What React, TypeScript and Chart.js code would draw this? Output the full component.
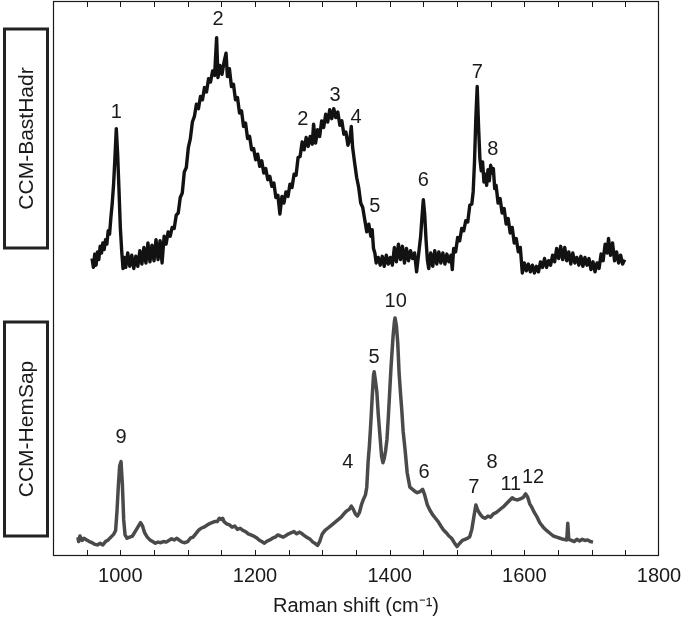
import React, { useEffect, useRef } from "react";
import { Chart, registerables } from "chart.js";

Chart.register(...registerables);

// ---------- data ----------
const X_MIN = 900;
const X_MAX = 1800;
const X_TICKS = [1000, 1200, 1400, 1600, 1800];
const MINOR_STEP = 50;

const SERIES_NAMES = ["CCM-BastHadr", "CCM-HemSap"];
const SERIES_OFFSETS = [50, 0];

const TOP_SHIFT = [
  958, 960, 962, 964, 966, 968, 970, 972, 974, 976, 978, 980, 982, 984, 986, 988, 990, 992, 994, 996, 998, 1000,
  1002, 1004, 1006, 1008, 1011, 1014, 1017, 1020, 1023, 1026, 1029, 1032, 1035, 1038, 1041, 1044, 1047, 1050,
  1053, 1056, 1059, 1062, 1065, 1068, 1071, 1074, 1077, 1080, 1083, 1086, 1089, 1092, 1095, 1098, 1101, 1104,
  1107, 1110, 1113, 1116, 1119, 1122, 1125, 1128, 1131, 1134, 1137, 1140, 1143, 1145, 1148, 1151, 1154, 1157,
  1159, 1162, 1165, 1168, 1171, 1174, 1177, 1180, 1183, 1186, 1189, 1192, 1195, 1198, 1201, 1204, 1207, 1210,
  1213, 1216, 1219, 1222, 1225, 1228, 1231, 1234, 1237, 1240, 1243, 1246, 1249, 1252, 1255, 1258, 1261, 1264,
  1267, 1270, 1273, 1276, 1279, 1282, 1285, 1287, 1290, 1293, 1296, 1299, 1302, 1305, 1308, 1311, 1314, 1317,
  1320, 1323, 1326, 1329, 1332, 1335, 1338, 1341, 1343, 1345, 1348, 1351, 1354, 1357, 1360, 1363, 1366, 1369,
  1372, 1374, 1376, 1378, 1380, 1383, 1386, 1389, 1392, 1395, 1398, 1401, 1404, 1407, 1410, 1413, 1416, 1419,
  1422, 1425, 1428, 1431, 1434, 1437, 1440, 1443, 1446, 1448, 1450, 1452, 1454, 1456, 1458, 1461, 1464, 1467,
  1470, 1473, 1476, 1479, 1482, 1485, 1488, 1491, 1493, 1495, 1498, 1501, 1504, 1507, 1510, 1513, 1516, 1519,
  1522, 1524, 1526, 1528, 1530, 1532, 1534, 1536, 1538, 1540, 1542, 1544, 1546, 1548, 1550, 1552, 1554, 1556,
  1558, 1561, 1564, 1567, 1570, 1573, 1576, 1579, 1582, 1585, 1588, 1591, 1594, 1597, 1600, 1603, 1606, 1609,
  1612, 1615, 1618, 1621, 1624, 1627, 1630, 1633, 1636, 1639, 1642, 1645, 1648, 1651, 1654, 1657, 1660, 1663,
  1666, 1669, 1672, 1675, 1678, 1681, 1684, 1687, 1690, 1693, 1696, 1699, 1702, 1705, 1708, 1711, 1714, 1717,
  1720, 1723, 1725, 1728, 1731, 1734, 1737, 1740, 1743, 1746, 1749,
];
const TOP_INTENSITY = [
  3.6, 2.0, 4.4, 2.4, 4.8, 3.4, 5.8, 4.6, 6.4, 5.2, 7.0, 6.2, 8.6, 8.0, 11.0, 13.6, 17.0, 21.8, 27.0, 22.4, 16.0, 9.2,
  5.0, 1.8, 3.8, 2.0, 4.6, 2.2, 4.2, 1.8, 4.0, 2.2, 5.0, 2.6, 5.6, 2.8, 6.4, 3.0, 6.0, 3.2,
  7.0, 3.4, 6.8, 2.8, 7.6, 6.2, 8.4, 7.6, 9.2, 9.0, 11.4, 11.8, 14.6, 15.4, 19.2, 20.0, 23.6, 25.2,
  28.2, 29.2, 31.4, 30.6, 32.8, 32.2, 34.4, 33.6, 36.0, 35.4, 37.4, 36.6, 43.4, 36.2, 38.4, 36.8, 39.0, 40.6,
  36.4, 37.8, 34.6, 35.0, 32.2, 32.6, 29.8, 30.2, 27.4, 28.0, 25.2, 25.6, 23.2, 23.4, 21.4, 22.4, 20.2, 21.2,
  19.0, 19.8, 17.8, 18.4, 16.6, 17.2, 14.6, 15.0, 11.6, 14.8, 13.6, 15.6, 14.8, 17.0, 16.4, 18.8, 18.6, 21.8,
  22.0, 24.6, 23.2, 25.4, 23.8, 25.6, 24.2, 27.8, 24.4, 26.8, 25.6, 28.4, 27.2, 29.6, 28.2, 30.4, 28.8, 30.6,
  29.0, 30.0, 27.6, 28.4, 26.0, 26.4, 24.0, 25.2, 27.4, 23.6, 20.8, 18.2, 16.4, 13.6, 12.8, 10.6, 8.4, 9.8,
  7.6, 8.8, 5.4, 4.6, 2.8, 3.8, 2.4, 4.0, 2.2, 4.2, 2.6, 3.8, 2.4, 5.6, 3.0, 6.2, 3.4, 5.8,
  2.8, 5.4, 3.2, 5.0, 3.6, 4.6, 1.2, 4.4, 7.6, 11.0, 14.2, 11.6, 7.0, 3.4, 1.8, 4.6, 2.2, 5.0,
  2.6, 4.8, 2.8, 4.6, 2.6, 4.4, 3.0, 4.2, 1.6, 5.4, 4.8, 7.4, 6.8, 9.0, 8.6, 10.4, 10.2, 13.2,
  13.4, 15.6, 21.0, 29.0, 34.6, 27.4, 21.6, 19.4, 21.0, 17.4, 18.8, 16.8, 19.6, 17.6, 20.4, 19.0, 19.8, 16.2,
  16.8, 13.6, 14.4, 11.8, 12.6, 9.8, 10.8, 8.2, 9.2, 6.4, 7.2, 4.8, 5.6, 1.0, 2.8, 1.4, 2.6, 1.2,
  2.4, 1.0, 2.2, 1.2, 3.0, 2.0, 3.6, 2.0, 3.2, 2.4, 4.2, 3.0, 5.4, 3.6, 5.8, 3.4, 5.6, 3.2,
  4.8, 2.6, 4.6, 2.8, 3.8, 2.4, 4.0, 2.2, 3.8, 2.4, 3.6, 1.6, 3.0, 1.2, 2.8, 1.8, 4.4, 3.2,
  6.2, 4.6, 7.2, 4.2, 6.4, 3.2, 4.8, 2.8, 4.2, 2.6, 3.4,
];

const BOTTOM_SHIFT = [
  937, 938, 940, 943, 946, 950, 954, 958, 962, 966, 970, 974, 978, 982, 986, 990, 993, 995, 997, 999, 1001, 1003,
  1005, 1007, 1010, 1014, 1018, 1022, 1026, 1030, 1033, 1036, 1040, 1044, 1048, 1052, 1056, 1060, 1064, 1068,
  1072, 1076, 1080, 1084, 1088, 1092, 1096, 1100, 1104, 1108, 1112, 1116, 1120, 1124, 1128, 1132, 1136, 1140,
  1144, 1147, 1150, 1152, 1154, 1158, 1162, 1166, 1170, 1174, 1178, 1182, 1186, 1190, 1194, 1198, 1202, 1206,
  1210, 1214, 1218, 1222, 1226, 1230, 1234, 1238, 1242, 1246, 1250, 1254, 1258, 1262, 1266, 1270, 1274, 1278,
  1282, 1286, 1290, 1293, 1296, 1300, 1304, 1308, 1312, 1316, 1320, 1324, 1328, 1332, 1336, 1340, 1343, 1346,
  1349, 1352, 1355, 1358, 1361, 1364, 1366, 1368, 1370, 1372, 1374, 1376, 1377, 1379, 1381, 1383, 1386, 1388,
  1390, 1392, 1394, 1396, 1398, 1400, 1402, 1405, 1407, 1408, 1410, 1412, 1414, 1416, 1418, 1420, 1423, 1426,
  1430, 1434, 1438, 1441, 1445, 1449, 1452, 1456, 1460, 1464, 1468, 1472, 1476, 1480, 1484, 1488, 1492, 1496,
  1500, 1504, 1508, 1512, 1516, 1519, 1522, 1525, 1528, 1531, 1534, 1538, 1542, 1546, 1550, 1554, 1558, 1562,
  1566, 1570, 1574, 1578, 1582, 1586, 1590, 1594, 1598, 1602, 1605, 1608, 1611, 1615, 1619, 1623, 1628, 1633,
  1638, 1643, 1648, 1653, 1658, 1663, 1664.5, 1666, 1670, 1674, 1678, 1682, 1686, 1690, 1694, 1698, 1702,
];
const BOTTOM_INTENSITY = [
  3.4, 2.6, 3.6, 2.8, 3.2, 2.9, 2.6, 2.4, 2.1, 2.0, 2.3, 2.0, 2.6, 2.9, 3.4, 3.9, 4.6, 8.0, 12.5, 16.2, 17.0, 13.0,
  6.5, 3.8, 3.2, 3.4, 3.6, 4.4, 5.2, 6.0, 5.4, 4.2, 3.4, 2.9, 2.6, 2.3, 2.5, 2.4, 2.6, 2.5,
  2.8, 3.1, 2.9, 3.2, 2.8, 2.5, 2.4, 2.6, 3.2, 3.4, 4.0, 4.6, 5.0, 5.2, 5.5, 5.8, 6.0, 6.2,
  6.2, 6.8, 6.6, 6.8, 6.2, 5.8, 5.6, 5.2, 5.4, 4.8, 5.0, 4.6, 4.4, 4.0, 3.8, 3.6, 3.3, 2.9,
  2.6, 2.3, 2.7, 2.9, 3.2, 3.4, 3.8, 3.6, 3.4, 3.7, 4.0, 4.2, 4.4, 4.0, 4.3, 4.0, 3.6, 3.3,
  3.0, 2.5, 2.2, 1.9, 2.6, 4.0, 4.6, 5.0, 5.4, 5.8, 6.2, 6.6, 7.0, 7.6, 8.1, 8.4, 9.0, 8.4,
  7.6, 7.2, 7.8, 9.2, 10.2, 11.0, 12.4, 17.0, 20.0, 24.0, 28.5, 32.6, 33.2, 31.5, 29.5, 25.6, 21.0, 18.0,
  16.8, 17.6, 19.0, 21.0, 25.0, 29.5, 34.0, 39.5, 42.2, 42.9, 41.5, 38.4, 33.0, 29.5, 26.3, 22.5, 19.0, 15.0,
  12.4, 12.0, 11.6, 11.4, 11.6, 12.0, 11.0, 9.2, 8.2, 7.4, 6.8, 6.2, 5.4, 4.7, 4.2, 3.6, 3.2, 2.4,
  1.7, 2.3, 2.8, 3.0, 3.2, 3.5, 4.8, 7.0, 9.2, 8.2, 7.6, 7.0, 6.8, 7.2, 7.0, 7.6, 7.8, 8.2,
  8.6, 9.0, 9.5, 10.0, 10.5, 10.2, 10.1, 10.3, 10.5, 11.2, 10.6, 9.4, 8.8, 7.8, 7.0, 6.0, 5.2, 4.6,
  4.1, 3.6, 3.4, 3.2, 3.0, 2.9, 5.9, 3.0, 2.8, 2.6, 3.0, 2.7, 3.0, 2.8, 2.9, 2.6, 2.5,
];

// peak annotations (label, wavenumber, height above each trace's offset)
const TOP_PEAK_LABELS = ["1", "2", "2", "3", "4", "5", "6", "7", "8"];
const TOP_PEAK_SHIFT = [994, 1145, 1271, 1319, 1350, 1378, 1450, 1530, 1553];
const TOP_PEAK_HEIGHT = [30.0, 46.6, 28.7, 32.9, 29.1, 12.9, 17.7, 37.2, 23.2];

const BOTTOM_PEAK_LABELS = ["9", "4", "5", "10", "6", "7", "8", "11", "12"];
const BOTTOM_PEAK_SHIFT = [1001, 1338, 1377, 1409, 1451, 1525, 1552, 1580, 1613];
const BOTTOM_PEAK_HEIGHT = [21.4, 16.8, 35.7, 45.8, 15.1, 12.4, 16.9, 12.8, 14.2];

const FONT = '"Liberation Sans", Arial, Helvetica, sans-serif';

const decorPlugin = {
  id: "decor",
  afterDraw(chart: any) {
    const { ctx, chartArea: a, scales } = chart;
    const x = scales.x;
    const y = scales.y;
    ctx.save();
    // frame
    ctx.strokeStyle = "#1a1a1a";
    ctx.lineWidth = 1.2;
    ctx.strokeRect(a.left + 0.5, a.top + 0.5, a.right - a.left - 1, a.bottom - a.top - 1);
    // inward ticks on top and bottom
    ctx.lineWidth = 1;
    ctx.beginPath();
    for (let v = X_MIN + MINOR_STEP; v < X_MAX; v += MINOR_STEP) {
      const px = Math.round(x.getPixelForValue(v)) + 0.5;
      ctx.moveTo(px, a.bottom);
      ctx.lineTo(px, a.bottom - 6);
      ctx.moveTo(px, a.top);
      ctx.lineTo(px, a.top + 6);
    }
    ctx.stroke();

    // peak labels
    ctx.fillStyle = "#1a1a1a";
    ctx.font = `20px ${FONT}`;
    ctx.textAlign = "center";
    ctx.textBaseline = "middle";
    TOP_PEAK_LABELS.forEach((t, i) => {
      ctx.fillText(t, x.getPixelForValue(TOP_PEAK_SHIFT[i]), y.getPixelForValue(TOP_PEAK_HEIGHT[i] + SERIES_OFFSETS[0]));
    });
    BOTTOM_PEAK_LABELS.forEach((t, i) => {
      ctx.fillText(t, x.getPixelForValue(BOTTOM_PEAK_SHIFT[i]), y.getPixelForValue(BOTTOM_PEAK_HEIGHT[i] + SERIES_OFFSETS[1]));
    });

    // boxed series names at left
    const boxes = [
      { top: 29, bottom: 248 },
      { top: 322, bottom: 536 },
    ];
    ctx.lineWidth = 3;
    ctx.strokeStyle = "#222";
    ctx.font = `21px ${FONT}`;
    boxes.forEach((b, i) => {
      const left = 4.5;
      const right = a.left - 5.5;
      ctx.strokeRect(left, b.top, right - left, b.bottom - b.top);
      ctx.save();
      ctx.translate((left + right) / 2 + 1, (b.top + b.bottom) / 2);
      ctx.rotate(-Math.PI / 2);
      ctx.fillStyle = "#1a1a1a";
      ctx.textAlign = "center";
      ctx.textBaseline = "middle";
      ctx.fillText(SERIES_NAMES[i], 0, 0);
      ctx.restore();
    });
    ctx.restore();
  },
};

export default function App() {
  const ref = useRef<HTMLCanvasElement | null>(null);
  useEffect(() => {
    if (!ref.current) return;
    const chart = new Chart(ref.current, {
      type: "line",
      data: {
        datasets: [
          {
            label: SERIES_NAMES[0],
            data: TOP_SHIFT.map((s, i) => ({ x: s, y: TOP_INTENSITY[i] + SERIES_OFFSETS[0] })),
            borderColor: "#121212",
            borderWidth: 3.4,
            pointRadius: 0,
            tension: 0,
            borderJoinStyle: "round",
          },
          {
            label: SERIES_NAMES[1],
            data: BOTTOM_SHIFT.map((s, i) => ({ x: s, y: BOTTOM_INTENSITY[i] + SERIES_OFFSETS[1] })),
            borderColor: "#4a4a4a",
            borderWidth: 3.5,
            pointRadius: 0,
            tension: 0,
            borderJoinStyle: "round",
          },
        ],
      },
      options: {
        responsive: false,
        animation: false,
        layout: { padding: { left: 53, top: 1, right: 26, bottom: 0 } },
        plugins: { legend: { display: false }, tooltip: { enabled: false } },
        scales: {
          x: {
            type: "linear",
            min: X_MIN,
            max: X_MAX,
            afterBuildTicks: (scale: any) => {
              scale.ticks = X_TICKS.map((v) => ({ value: v }));
            },
            afterFit: (scale: any) => {
              scale.height = 64;
              scale.paddingLeft = 0;
              scale.paddingRight = 0;
            },
            grid: { display: false, drawTicks: false },
            border: { display: false },
            ticks: {
              color: "#1a1a1a",
              font: { size: 20, family: FONT },
              padding: 8,
              maxRotation: 0,
              autoSkip: false,
              callback: (v: any) => String(v),
            },
            title: {
              display: true,
              text: "Raman shift (cm\u207B\u00B9)",
              color: "#1a1a1a",
              font: { size: 20, family: FONT },
              padding: { top: 2, bottom: 2 },
            },
          },
          y: {
            type: "linear",
            min: 0,
            max: 100,
            display: false,
          },
        },
      },
      plugins: [decorPlugin],
    });
    return () => chart.destroy();
  }, []);
  return (
    <div style={{ position: "fixed", left: 0, top: 0, width: 685, height: 620, background: "#fff" }}>
      <canvas ref={ref} width={685} height={620} style={{ width: 685, height: 620, display: "block" }} />
    </div>
  );
}
